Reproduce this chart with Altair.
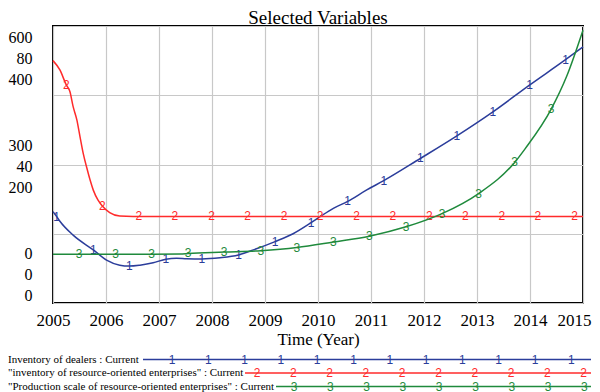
import altair as alt
import pandas as pd

# ---------------- data ----------------
years = [2005, 2006, 2007, 2008, 2009, 2010, 2011, 2012, 2013, 2014, 2015]

# Inventory of dealers (scale 0-600)
blue_t = [2005.00, 2005.07, 2005.13, 2005.38, 2005.76, 2006.01, 2006.26, 2006.44, 2006.64,
          2006.89, 2007.13, 2007.33, 2007.52, 2007.81, 2008.15, 2008.50, 2008.78, 2009.19,
          2009.53, 2009.87, 2010.04, 2010.29, 2010.56, 2010.92, 2011.24, 2011.93, 2012.62,
          2013.30, 2013.99, 2014.67, 2015.00]
blue_v = [198, 187, 177, 147, 115, 93, 82, 80, 82,
          87, 95, 97, 96, 95.5, 98, 104, 115, 133,
          150, 174, 187, 205, 220, 245, 265, 313, 362,
          414, 472, 527, 555]
blue_m = [0, 1, 0, 0, 1, 0, 0, 1, 0,
          0, 1, 0, 0, 1, 0, 1, 0, 1,
          0, 1, 0, 0, 1, 0, 1, 1, 1,
          1, 1, 1, 0]

# inventory of resource-oriented enterprises (scale 0-80)
red_t = [2005.00, 2005.13, 2005.25, 2005.32, 2005.38, 2005.45, 2005.51, 2005.57, 2005.64,
         2005.70, 2005.76, 2005.85, 2005.93, 2006.07, 2006.26, 2006.51, 2006.62, 2007.30,
         2007.99, 2008.67, 2009.36, 2010.04, 2010.73, 2011.41, 2012.10, 2012.78, 2013.47,
         2014.15, 2014.84, 2015.00]
red_v = [70, 67.3, 63, 61, 56.7, 52.9, 48, 43.2, 38.9,
         35.5, 32.6, 29.7, 28, 26.1, 25.1, 25, 25, 25,
         25, 25, 25, 25, 25, 25, 25, 25, 25,
         25, 25, 25]
red_m = [0, 0, 1, 0, 0, 0, 0, 0, 0,
         0, 0, 0, 1, 0, 0, 0, 1, 1,
         1, 1, 1, 1, 1, 1, 1, 1, 1,
         1, 1, 0]

# Production scale of resource-oriented enterprises (scale 0-400)
green_t = [2005.00, 2005.49, 2006.18, 2006.86, 2007.40, 2007.55, 2008.23, 2008.92, 2009.60,
           2010.29, 2010.97, 2011.66, 2012.34, 2013.03, 2013.71, 2013.91, 2014.40, 2014.69,
           2015.00]
green_v = [70.5, 70.5, 70.5, 70.5, 70.7, 71.5, 73.5, 75.5, 80,
           88, 96.5, 110, 129, 158, 203, 223, 280, 327,
           394]
green_m = [0, 1, 1, 1, 0, 1, 1, 1, 1,
           1, 1, 1, 1, 1, 1, 0, 1, 0,
           0]

series_names = ["Inventory of dealers : Current",
                "\"inventory of resource-oriented enterprises\" : Current",
                "\"Production scale of resource-oriented enterprises\" : Current"]
digits = ["1", "2", "3"]
scale_max = [600, 80, 400]
y_tick_values = [0, 150, 300, 450, 600]

# ---------------- styles / layout ----------------
BLUE = "#2b3d9b"
RED = "#ff2b2b"
GREEN = "#1f8a3c"
colors = [BLUE, RED, GREEN]
SERIF = "Liberation Serif"
SANS = "Liberation Sans"
W, H = 530, 277

# legend layout (pixels, relative to plot origin)
leg_text_x = -45
leg_row_y = [333.5, 347, 360.5]
leg_line_x0 = [90, 192, 223]
leg_line_x1 = [538, 538, 538]
leg_mark_x0 = [119, 204, 241]
leg_mark_n = [12, 10, 9]
leg_step = 36.3


def sdf(t, v, m, d):
    return pd.DataFrame({"t": t, "v": v, "mk": [d if f else "" for f in m]})


dfs = [sdf(blue_t, blue_v, blue_m, "1"),
       sdf(red_t, red_v, red_m, "2"),
       sdf(green_t, green_v, green_m, "3")]

xscale = alt.Scale(domain=[2005, 2015], nice=False, zero=False)

label_expr = ("datum.value == 600 ? ['600','80','400'] : "
              "datum.value == 300 ? ['300','40','200'] : "
              "datum.value == 0 ? ['0','0','0'] : ''")

x_axis = alt.Axis(values=years, format="d", grid=True, gridColor="#c8c8c8", gridWidth=1.2,
                  ticks=False, domain=False, labelFont=SERIF, labelFontSize=17,
                  labelColor="black", labelPadding=9, labelFlush=False,
                  labelOffset={"condition": {"test": "datum.value == 2015", "value": -9},
                               "value": 0},
                  title="Time (Year)", titleFont=SERIF, titleFontSize=17,
                  titleFontWeight="normal", titleColor="black", titlePadding=3)
y_axis = alt.Axis(values=y_tick_values, grid=True, gridColor="#c8c8c8", gridWidth=1.2,
                  ticks=False, domain=False, labelExpr=label_expr, labelFlush=False,
                  labelBaseline="middle",
                  labelOffset={"condition": [{"test": "datum.value == 600", "value": 11},
                                             {"test": "datum.value == 300", "value": -19.5}],
                               "value": -50},
                  labelOverlap=False, labelFont=SERIF, labelFontSize=16,
                  labelLineHeight=21, labelColor="black", labelPadding=21, title=None)

layers = []
for i in range(3):
    ysc = alt.Scale(domain=[0, scale_max[i]], nice=False, zero=True)
    base = alt.Chart(dfs[i])
    line = base.mark_line(color=colors[i], strokeWidth=1.5, interpolate="monotone").encode(
        x=alt.X("t:Q", scale=xscale, axis=x_axis if i == 0 else None),
        y=alt.Y("v:Q", scale=ysc, axis=y_axis if i == 0 else None),
    )
    marks = base.transform_filter("datum.mk != ''").mark_text(
        color=colors[i], font=SANS, fontSize=12, align="center", baseline="middle"
    ).encode(
        x=alt.X("t:Q", scale=xscale, axis=None),
        y=alt.Y("v:Q", scale=ysc, axis=None),
        text="mk:N",
    )
    layers.extend([line, marks])

# legend
leg_text_df = pd.DataFrame({"name": series_names, "px": [leg_text_x] * 3, "py": leg_row_y})
leg_text = alt.Chart(leg_text_df).mark_text(
    font=SERIF, fontSize=11, align="left", baseline="middle", color="black"
).encode(
    x=alt.X("px:Q", scale=None, axis=None),
    y=alt.Y("py:Q", scale=None, axis=None),
    text="name:N",
)
layers.append(leg_text)

for i in range(3):
    ldf = pd.DataFrame({"x0": [leg_line_x0[i]], "x1": [leg_line_x1[i]], "py": [leg_row_y[i]]})
    rule = alt.Chart(ldf).mark_rule(color=colors[i], strokeWidth=1.5).encode(
        x=alt.X("x0:Q", scale=None, axis=None),
        x2="x1:Q",
        y=alt.Y("py:Q", scale=None, axis=None),
    )
    mdf = pd.DataFrame({"px": [leg_mark_x0[i] + k * leg_step for k in range(leg_mark_n[i])],
                        "py": [leg_row_y[i]] * leg_mark_n[i],
                        "d": [digits[i]] * leg_mark_n[i]})
    mk = alt.Chart(mdf).mark_text(color=colors[i], font=SANS, fontSize=12,
                                  align="center", baseline="middle").encode(
        x=alt.X("px:Q", scale=None, axis=None),
        y=alt.Y("py:Q", scale=None, axis=None),
        text="d:N",
    )
    layers.extend([rule, mk])

chart = alt.layer(*layers).resolve_scale(x="independent", y="independent").properties(
    width=W, height=H,
    background="white",
    autosize=alt.AutoSizeParams(type="none"),
    padding={"left": 45, "top": 18, "right": 9, "bottom": 89},
    title=alt.Title("Selected Variables", font=SERIF, fontSize=19, fontWeight="normal",
                    color="black", anchor="middle", offset=-2),
).configure_view(stroke="black", strokeWidth=2)

chart.save("out.html", embed_options={"renderer": "svg", "actions": False})
